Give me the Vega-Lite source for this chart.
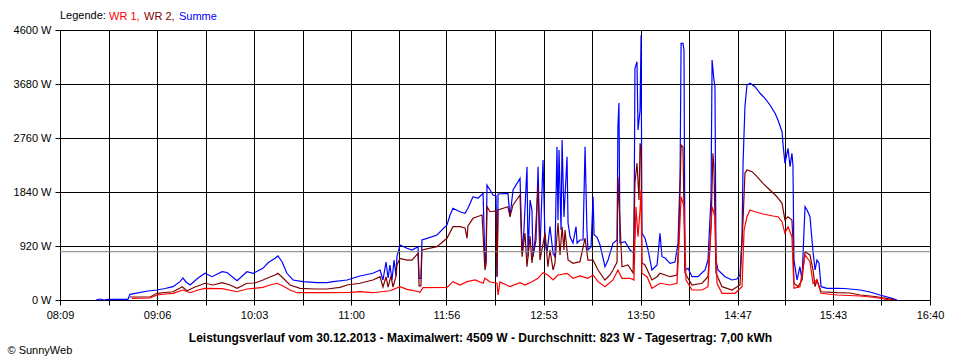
{
  "$schema": "https://vega.github.io/schema/vega-lite/v6.json",
  "width": 870,
  "height": 270,
  "autosize": {"type": "none"},
  "padding": {"left": 60, "top": 30, "right": 30, "bottom": 60},
  "background": "white",
  "config": {
    "view": {"stroke": null},
    "font": "Liberation Sans",
    "axis": {
      "gridColor": "#000000", "gridOpacity": 1, "gridWidth": 1,
      "tickColor": "#000000", "tickSize": 5, "tickWidth": 1,
      "domainColor": "#000000", "domainWidth": 1,
      "labelColor": "#000000", "labelFontSize": 11, "labelFont": "Liberation Sans",
      "titleColor": "#000000", "titleFont": "Liberation Sans"
    }
  },
  "datasets": {
    "sum": [
      {"t":510.1,"w":0},{"t":512.5,"w":17},{"t":514.8,"w":0},{"t":517.2,"w":9},{"t":528.9,"w":12},{"t":530.1,"w":97},{"t":540.7,"w":153},{"t":546.0,"w":170},{"t":550.7,"w":196},{"t":555.4,"w":227},{"t":559.5,"w":312},{"t":561.2,"w":375},{"t":563.0,"w":307},{"t":565.4,"w":256},{"t":570.1,"w":375},{"t":574.2,"w":455},{"t":578.3,"w":397},{"t":584.2,"w":482},{"t":587.1,"w":469},{"t":593.0,"w":329},{"t":598.8,"w":482},{"t":602.4,"w":455},{"t":608.2,"w":540},{"t":611.2,"w":635},{"t":615.3,"w":710},{"t":617.0,"w":750},{"t":619.4,"w":653},{"t":622.3,"w":455},{"t":625.9,"w":341},{"t":631.7,"w":312},{"t":640.0,"w":295},{"t":645.8,"w":295},{"t":649.4,"w":312},{"t":657.6,"w":341},{"t":665.2,"w":409},{"t":672.8,"w":455},{"t":677.0,"w":511},{"t":678.7,"w":341},{"t":680.5,"w":647},{"t":681.7,"w":375},{"t":682.8,"w":596},{"t":684.0,"w":341},{"t":685.2,"w":681},{"t":686.4,"w":409},{"t":686.9,"w":738},{"t":688.7,"w":937},{"t":692.8,"w":881},{"t":695.8,"w":852},{"t":699.3,"w":908},{"t":699.9,"w":370},{"t":701.0,"w":370},{"t":701.6,"w":1022},{"t":704.6,"w":1051},{"t":710.4,"w":1107},{"t":716.3,"w":1278},{"t":718.1,"w":1448},{"t":719.8,"w":1562},{"t":723.9,"w":1504},{"t":726.9,"w":1477},{"t":728.6,"w":1562},{"t":731.6,"w":1760},{"t":734.5,"w":1733},{"t":737.5,"w":1818},{"t":738.6,"w":630},{"t":739.2,"w":630},{"t":739.8,"w":1959},{"t":741.6,"w":1874},{"t":743.3,"w":1789},{"t":745.1,"w":1772},{"t":745.7,"w":397},{"t":746.3,"w":1806},{"t":752.1,"w":1818},{"t":753.3,"w":1419},{"t":755.1,"w":1874},{"t":759.2,"w":2073},{"t":760.4,"w":801},{"t":761.5,"w":1193},{"t":763.3,"w":2271},{"t":763.9,"w":738},{"t":765.1,"w":1704},{"t":766.2,"w":1533},{"t":766.8,"w":738},{"t":768.6,"w":1022},{"t":769.8,"w":2271},{"t":770.9,"w":801},{"t":772.7,"w":2385},{"t":773.9,"w":1022},{"t":775.0,"w":801},{"t":776.8,"w":1249},{"t":778.6,"w":796},{"t":779.7,"w":738},{"t":780.9,"w":2612},{"t":781.5,"w":1363},{"t":782.1,"w":2556},{"t":783.3,"w":1193},{"t":783.9,"w":2726},{"t":785.0,"w":1414},{"t":786.8,"w":2441},{"t":787.4,"w":1312},{"t":788.6,"w":1078},{"t":790.3,"w":971},{"t":792.1,"w":1249},{"t":792.7,"w":971},{"t":794.4,"w":1022},{"t":796.2,"w":1022},{"t":797.4,"w":2612},{"t":798.5,"w":1193},{"t":799.1,"w":852},{"t":800.9,"w":903},{"t":802.1,"w":1760},{"t":802.7,"w":1107},{"t":804.4,"w":1073},{"t":806.2,"w":937},{"t":809.1,"w":567},{"t":810.9,"w":681},{"t":813.8,"w":966},{"t":816.2,"w":1022},{"t":816.7,"w":2953},{"t":817.3,"w":3356},{"t":817.9,"w":971},{"t":820.9,"w":993},{"t":823.8,"w":852},{"t":826.1,"w":801},{"t":826.7,"w":3948},{"t":827.9,"w":4060},{"t":828.5,"w":2896},{"t":829.7,"w":3237},{"t":830.3,"w":4509},{"t":830.8,"w":1141},{"t":832.6,"w":1051},{"t":834.4,"w":852},{"t":836.7,"w":511},{"t":839.7,"w":596},{"t":841.4,"w":1136},{"t":842.6,"w":738},{"t":844.4,"w":716},{"t":847.3,"w":625},{"t":850.2,"w":647},{"t":852.0,"w":966},{"t":853.2,"w":2101},{"t":853.8,"w":4373},{"t":854.9,"w":4373},{"t":855.5,"w":4259},{"t":856.1,"w":511},{"t":857.9,"w":540},{"t":860.2,"w":397},{"t":863.7,"w":397},{"t":867.9,"w":511},{"t":869.6,"w":681},{"t":871.4,"w":1760},{"t":872.0,"w":4089},{"t":873.1,"w":3748},{"t":873.7,"w":3634},{"t":874.3,"w":681},{"t":875.5,"w":511},{"t":879.6,"w":397},{"t":883.7,"w":341},{"t":886.6,"w":358},{"t":888.4,"w":426},{"t":889.6,"w":1078},{"t":890.2,"w":2329},{"t":891.3,"w":3293},{"t":892.5,"w":3663},{"t":894.3,"w":3692},{"t":897.2,"w":3634},{"t":900.2,"w":3522},{"t":903.1,"w":3436},{"t":906.0,"w":3322},{"t":909.0,"w":3181},{"t":910.7,"w":3067},{"t":913.1,"w":2867},{"t":913.7,"w":2641},{"t":914.8,"w":2329},{"t":916.6,"w":2585},{"t":917.8,"w":2271},{"t":918.9,"w":2499},{"t":919.5,"w":2300},{"t":920.1,"w":681},{"t":921.9,"w":341},{"t":923.6,"w":567},{"t":924.8,"w":341},{"t":926.6,"w":1590},{"t":927.8,"w":1533},{"t":929.5,"w":1419},{"t":931.3,"w":823},{"t":932.5,"w":511},{"t":933.6,"w":681},{"t":934.8,"w":630},{"t":936.0,"w":227},{"t":939.5,"w":199},{"t":945.4,"w":199},{"t":950.1,"w":196},{"t":958.9,"w":170},{"t":964.8,"w":136},{"t":970.6,"w":85},{"t":977.7,"w":29},{"t":980.6,"w":0}
    ],
    "wr2": [
      {"t":530.1,"w":51},{"t":541.9,"w":51},{"t":546.0,"w":114},{"t":550.7,"w":128},{"t":555.4,"w":141},{"t":559.5,"w":204},{"t":560.7,"w":227},{"t":563.6,"w":158},{"t":568.3,"w":221},{"t":574.2,"w":285},{"t":578.9,"w":256},{"t":584.2,"w":295},{"t":588.9,"w":256},{"t":593.0,"w":199},{"t":598.8,"w":285},{"t":603.5,"w":290},{"t":608.2,"w":341},{"t":612.3,"w":392},{"t":615.3,"w":426},{"t":617.0,"w":455},{"t":620.0,"w":375},{"t":624.1,"w":256},{"t":630.0,"w":199},{"t":638.8,"w":187},{"t":645.8,"w":187},{"t":653.5,"w":216},{"t":657.6,"w":256},{"t":665.2,"w":285},{"t":672.8,"w":341},{"t":677.0,"w":397},{"t":678.7,"w":221},{"t":680.5,"w":392},{"t":681.7,"w":221},{"t":683.4,"w":409},{"t":684.6,"w":221},{"t":686.4,"w":409},{"t":686.9,"w":596},{"t":688.7,"w":710},{"t":692.8,"w":681},{"t":695.8,"w":681},{"t":699.3,"w":796},{"t":699.9,"w":239},{"t":701.0,"w":239},{"t":701.6,"w":852},{"t":710.4,"w":908},{"t":716.3,"w":1051},{"t":719.8,"w":1249},{"t":723.9,"w":1249},{"t":726.9,"w":1227},{"t":728.1,"w":1051},{"t":728.6,"w":1261},{"t":731.6,"w":1392},{"t":736.9,"w":1448},{"t":738.6,"w":511},{"t":739.2,"w":596},{"t":739.8,"w":1590},{"t":741.6,"w":1504},{"t":745.1,"w":1516},{"t":745.7,"w":397},{"t":746.3,"w":1533},{"t":752.1,"w":1590},{"t":753.3,"w":1419},{"t":755.1,"w":1619},{"t":759.2,"w":1789},{"t":760.4,"w":738},{"t":762.1,"w":1141},{"t":763.3,"w":567},{"t":765.1,"w":1090},{"t":766.2,"w":630},{"t":768.0,"w":1022},{"t":769.8,"w":1930},{"t":770.9,"w":681},{"t":773.9,"w":1141},{"t":775.6,"w":567},{"t":776.8,"w":852},{"t":778.6,"w":511},{"t":779.7,"w":625},{"t":781.5,"w":1312},{"t":782.7,"w":767},{"t":783.9,"w":1249},{"t":785.0,"w":852},{"t":785.6,"w":1193},{"t":787.4,"w":681},{"t":790.3,"w":625},{"t":794.4,"w":653},{"t":797.4,"w":1056},{"t":799.1,"w":681},{"t":802.1,"w":681},{"t":805.0,"w":511},{"t":809.1,"w":341},{"t":812.0,"w":426},{"t":813.8,"w":511},{"t":816.2,"w":647},{"t":816.7,"w":2101},{"t":817.3,"w":1704},{"t":819.1,"w":567},{"t":822.6,"w":596},{"t":825.6,"w":460},{"t":826.7,"w":1993},{"t":827.9,"w":2334},{"t":829.1,"w":1704},{"t":829.7,"w":2670},{"t":830.3,"w":2556},{"t":830.8,"w":630},{"t":832.6,"w":596},{"t":836.7,"w":341},{"t":839.7,"w":397},{"t":841.4,"w":455},{"t":847.3,"w":397},{"t":851.4,"w":426},{"t":852.6,"w":1141},{"t":853.8,"w":2641},{"t":854.9,"w":2607},{"t":856.1,"w":460},{"t":860.2,"w":256},{"t":866.1,"w":285},{"t":869.6,"w":397},{"t":871.4,"w":1261},{"t":872.5,"w":2499},{"t":873.1,"w":2271},{"t":874.3,"w":460},{"t":877.8,"w":227},{"t":883.7,"w":170},{"t":888.4,"w":256},{"t":890.2,"w":1363},{"t":891.3,"w":2159},{"t":892.5,"w":2215},{"t":895.5,"w":2186},{"t":898.4,"w":2101},{"t":901.9,"w":1988},{"t":906.0,"w":1874},{"t":910.1,"w":1760},{"t":913.1,"w":1647},{"t":914.8,"w":1363},{"t":916.6,"w":1419},{"t":918.9,"w":1363},{"t":919.5,"w":1022},{"t":920.1,"w":285},{"t":922.5,"w":227},{"t":924.8,"w":341},{"t":926.6,"w":823},{"t":929.5,"w":767},{"t":931.3,"w":511},{"t":932.5,"w":227},{"t":933.6,"w":341},{"t":936.0,"w":141},{"t":945.4,"w":124},{"t":953.0,"w":119},{"t":958.9,"w":85},{"t":967.7,"w":60},{"t":977.7,"w":12},{"t":979.4,"w":0}
    ],
    "wr1": [
      {"t":531.3,"w":26},{"t":541.9,"w":34},{"t":546.0,"w":85},{"t":550.7,"w":102},{"t":555.4,"w":114},{"t":561.2,"w":170},{"t":565.4,"w":124},{"t":570.1,"w":170},{"t":574.2,"w":199},{"t":584.2,"w":193},{"t":593.0,"w":141},{"t":598.8,"w":187},{"t":608.2,"w":216},{"t":612.3,"w":256},{"t":616.5,"w":285},{"t":620.0,"w":239},{"t":624.1,"w":170},{"t":628.2,"w":124},{"t":645.8,"w":124},{"t":659.3,"w":131},{"t":665.2,"w":141},{"t":672.8,"w":124},{"t":682.8,"w":158},{"t":688.7,"w":227},{"t":692.8,"w":182},{"t":699.3,"w":145},{"t":700.4,"w":128},{"t":702.2,"w":210},{"t":716.3,"w":216},{"t":719.8,"w":312},{"t":723.9,"w":256},{"t":728.1,"w":312},{"t":732.8,"w":341},{"t":737.5,"w":285},{"t":738.6,"w":370},{"t":741.6,"w":307},{"t":745.7,"w":285},{"t":746.3,"w":85},{"t":747.4,"w":307},{"t":753.3,"w":227},{"t":759.2,"w":295},{"t":762.1,"w":256},{"t":766.2,"w":312},{"t":769.8,"w":370},{"t":772.7,"w":465},{"t":775.6,"w":426},{"t":778.6,"w":341},{"t":781.5,"w":426},{"t":786.8,"w":455},{"t":790.3,"w":370},{"t":794.4,"w":409},{"t":799.1,"w":370},{"t":802.1,"w":426},{"t":805.0,"w":312},{"t":809.1,"w":227},{"t":813.8,"w":341},{"t":816.7,"w":511},{"t":819.1,"w":370},{"t":823.8,"w":370},{"t":826.1,"w":341},{"t":827.3,"w":1590},{"t":828.5,"w":1078},{"t":829.7,"w":1533},{"t":830.3,"w":1874},{"t":830.8,"w":455},{"t":833.8,"w":397},{"t":836.7,"w":199},{"t":841.4,"w":285},{"t":847.3,"w":256},{"t":851.4,"w":285},{"t":852.6,"w":971},{"t":853.8,"w":1760},{"t":855.5,"w":1590},{"t":856.7,"w":341},{"t":860.2,"w":170},{"t":866.1,"w":170},{"t":869.6,"w":227},{"t":872.0,"w":1590},{"t":873.7,"w":1419},{"t":874.9,"w":285},{"t":877.8,"w":114},{"t":885.5,"w":114},{"t":889.6,"w":227},{"t":890.8,"w":1193},{"t":892.5,"w":1419},{"t":894.3,"w":1533},{"t":897.2,"w":1504},{"t":901.9,"w":1465},{"t":907.8,"w":1431},{"t":910.7,"w":1419},{"t":913.1,"w":1334},{"t":914.8,"w":1136},{"t":916.6,"w":1249},{"t":918.9,"w":1078},{"t":920.1,"w":199},{"t":923.6,"w":227},{"t":926.6,"w":767},{"t":929.5,"w":653},{"t":931.3,"w":285},{"t":933.6,"w":341},{"t":936.0,"w":114},{"t":945.4,"w":85},{"t":958.9,"w":68},{"t":967.7,"w":43},{"t":976.5,"w":0}
    ]
  },
  "encoding": {
    "x": {
      "field": "t", "type": "quantitative",
      "scale": {"domain": [489, 1000], "nice": false, "zero": false},
      "axis": {
        "values": [489, 517.5, 546, 574.5, 603, 631.5, 660, 688.01, 716, 744.5, 773, 801.5, 830, 858.5, 887, 915.01, 943, 971.5, 1000],
        "labelExpr": "datum.value % 1 == 0 ? (floor(datum.value/60) < 10 ? '0' : '') + floor(datum.value/60) + ':' + (datum.value % 60 < 10 ? '0' : '') + (datum.value % 60) : ''",
        "labelOverlap": false, "labelFlush": false, "labelPadding": 4,
        "title": "Leistungsverlauf vom 30.12.2013 - Maximalwert: 4509 W - Durchschnitt: 823 W - Tagesertrag: 7,00 kWh",
        "titleFontSize": 12, "titleFontWeight": "bold",
        "titleX": 420, "titleY": 41, "titleAlign": "center", "titleBaseline": "alphabetic"
      }
    },
    "y": {
      "field": "w", "type": "quantitative",
      "scale": {"domain": [0, 4600], "nice": false},
      "axis": {
        "values": [0, 920, 1840, 2760, 3680, 4600],
        "labelExpr": "datum.value + ' W'",
        "labelPadding": 4,
        "title": "© SunnyWeb",
        "titleAngle": 0, "titleFontSize": 11, "titleFontWeight": "normal",
        "titleX": -53, "titleY": 323, "titleAlign": "left", "titleBaseline": "alphabetic"
      }
    }
  },
  "layer": [
    {
      "data": {"name": "sum"},
      "mark": {"type": "line", "strokeWidth": 1.2},
      "encoding": {
        "color": {
          "datum": "Summe", "type": "nominal",
          "scale": {"domain": ["WR 1", "WR 2", "Summe"], "range": ["#ff0000", "#800000", "#0000ff"]},
          "legend": {
            "orient": "none", "legendX": 0, "legendY": -19,
            "direction": "horizontal",
            "title": "Legende:", "titleOrient": "left", "titleFontWeight": "normal",
            "titleFontSize": 11, "titleColor": "#000000", "titlePadding": 4,
            "labelFontSize": 11, "labelOffset": -12, "columnPadding": 4,
            "symbolSize": 0, "symbolStrokeWidth": 0, "symbolOpacity": 0,
            "labelExpr": "datum.label == 'Summe' ? 'Summe' : datum.label + ','",
            "encode": {"labels": {"update": {"fill": {"signal": "datum.value === 'WR 1' ? '#ff0000' : datum.value === 'WR 2' ? '#800000' : '#0000ff'"}}}}
          }
        }
      }
    },
    {
      "data": {"name": "wr2"},
      "mark": {"type": "line", "strokeWidth": 1.2},
      "encoding": {"color": {"datum": "WR 2", "type": "nominal"}}
    },
    {
      "data": {"name": "wr1"},
      "mark": {"type": "line", "strokeWidth": 1.2},
      "encoding": {"color": {"datum": "WR 1", "type": "nominal"}}
    },
    {
      "data": {"values": [{"avg": 823}]},
      "mark": {"type": "rule", "color": "#808080", "strokeWidth": 1},
      "encoding": {"y": {"field": "avg", "type": "quantitative"}, "x": {"value": 0}, "x2": {"value": 870}}
    }
  ]
}
